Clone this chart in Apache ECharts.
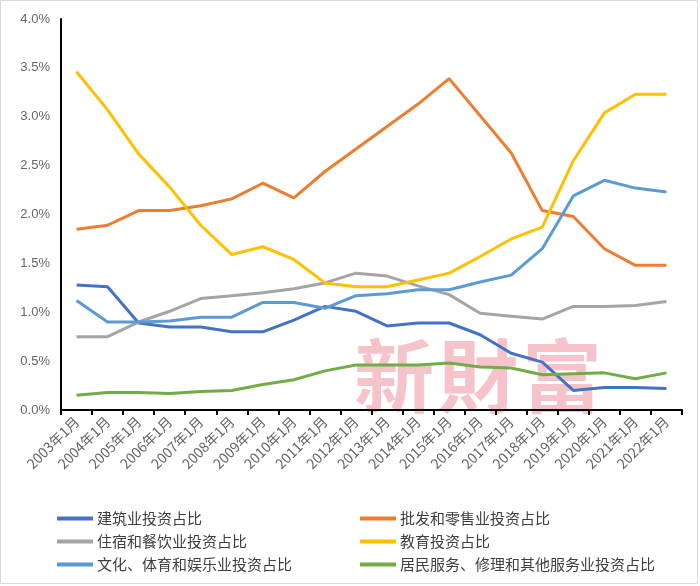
<!DOCTYPE html>
<html><head><meta charset="utf-8">
<script src="https://cdn.jsdelivr.net/npm/echarts@6/dist/echarts.min.js"></script>
<style>html,body{margin:0;padding:0;background:#fff}#c{width:700px;height:586px}</style>
</head><body><div id="c"></div>
<script>
const categories = ['2003年1月','2004年1月','2005年1月','2006年1月','2007年1月','2008年1月','2009年1月','2010年1月','2011年1月','2012年1月','2013年1月','2014年1月','2015年1月','2016年1月','2017年1月','2018年1月','2019年1月','2020年1月','2021年1月','2022年1月'];
const construction = [1.28,1.26,0.89,0.85,0.85,0.80,0.80,0.92,1.06,1.01,0.86,0.89,0.89,0.77,0.58,0.49,0.20,0.23,0.23,0.22];
const wholesale = [1.85,1.89,2.04,2.04,2.09,2.16,2.32,2.17,2.44,2.67,2.90,3.13,3.39,3.01,2.63,2.04,1.98,1.65,1.48,1.48];
const lodging = [0.75,0.75,0.90,1.01,1.14,1.17,1.20,1.24,1.30,1.40,1.37,1.27,1.18,0.99,0.96,0.93,1.06,1.06,1.07,1.11];
const education = [3.46,3.07,2.62,2.28,1.89,1.59,1.67,1.54,1.30,1.26,1.26,1.33,1.40,1.57,1.75,1.87,2.55,3.04,3.23,3.23];
const culture = [1.12,0.90,0.90,0.91,0.95,0.95,1.10,1.10,1.04,1.17,1.19,1.23,1.23,1.31,1.38,1.65,2.19,2.35,2.27,2.23];
const services = [0.15,0.18,0.18,0.17,0.19,0.20,0.26,0.31,0.40,0.46,0.46,0.46,0.48,0.44,0.43,0.36,0.37,0.38,0.32,0.38];
const names = ['建筑业投资占比','批发和零售业投资占比','住宿和餐饮业投资占比','教育投资占比','文化、体育和娱乐业投资占比','居民服务、修理和其他服务业投资占比'];
const colors = ['#4472C4','#ED7D31','#A5A5A5','#FFC000','#5B9BD5','#70AD47'];
const allData = [construction, wholesale, lodging, education, culture, services];
const watermark = ['新','財','富'];

const chart = echarts.init(document.getElementById('c'));
const legendCommon = {orient:'vertical', icon:'rect', itemWidth:36, itemHeight:4, itemGap:8,
  textStyle:{color:'#404040', fontSize:15, padding:[0,0,0,-1], fontFamily:'Noto Sans CJK SC'}};
const wm = watermark.map((ch,i)=>({type:'text', left:354+i*84, top:336, z:0,
  style:{text:ch, fill:'rgba(238,155,165,0.6)', font:'bold 80px "Noto Sans CJK SC"'}}));
chart.setOption({
  animation:false,
  color: colors,
  grid:{left:61, right:18, top:19, bottom:176},
  graphic:[
    {type:'rect', shape:{x:0.5,y:0.5,width:697,height:583}, style:{fill:'none', stroke:'#d9d9d9', lineWidth:1}, z:0}
  ].concat(wm),
  legend:[
    Object.assign({left:52, top:506, data:[names[0],names[2],names[4]]}, legendCommon),
    Object.assign({left:355, top:506, data:[names[1],names[3],names[5]]}, legendCommon)
  ],
  xAxis:{type:'category', data:categories, boundaryGap:true,
    axisLine:{lineStyle:{color:'#000', width:2}},
    axisTick:{show:true, length:5, lineStyle:{color:'#000', width:2}},
    axisLabel:{rotate:45, color:'#666', fontSize:14, margin:9, interval:0, fontFamily:'Noto Sans CJK SC'}},
  yAxis:{type:'value', min:0, max:4, interval:0.5,
    axisLine:{show:true, lineStyle:{color:'#000', width:2}},
    axisTick:{show:false}, splitLine:{show:false},
    axisLabel:{color:'#666', fontSize:13, margin:11, formatter:v=>v.toFixed(1)+'%'}},
  series: allData.map((d,i)=>({name:names[i], type:'line', data:d, symbol:'none', z:3,
    lineStyle:{width:3, color:colors[i]}, itemStyle:{color:colors[i]}}))
});
</script></body></html>
